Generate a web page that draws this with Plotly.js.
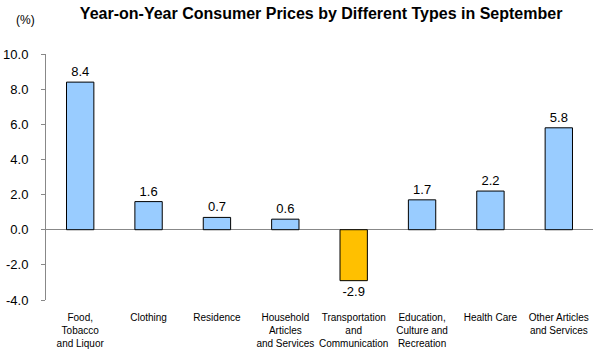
<!DOCTYPE html>
<html>
<head>
<meta charset="utf-8">
<script src="https://cdn.plot.ly/plotly-3.0.1.min.js"></script>
<style>html,body{margin:0;padding:0;background:#fff;}#chart{width:598px;height:352px;}</style>
</head>
<body>
<div id="chart"></div>
<script>
const categories = ["Food,<br>Tobacco<br>and Liquor", "Clothing", "Residence", "Household<br>Articles<br>and Services", "Transportation<br>and<br>Communication", "Education,<br>Culture and<br>Recreation", "Health Care", "Other Articles<br>and Services"];
const values = [8.4, 1.6, 0.7, 0.6, -2.9, 1.7, 2.2, 5.8];
const valueLabels = ["8.4", "1.6", "0.7", "0.6", "-2.9", "1.7", "2.2", "5.8"];
const yTicks = [10, 8, 6, 4, 2, 0, -2, -4];
const yTickLabels = ["10.0", "8.0", "6.0", "4.0", "2.0", "0.0", "-2.0", "-4.0"];

const colors = values.map(v => v < 0 ? "#FFC000" : "#99CCFF");

const trace = {
  type: "bar",
  x: categories,
  y: values,
  text: valueLabels,
  textposition: "outside",
  cliponaxis: false,
  textfont: {family: "Liberation Sans, Arial, sans-serif", size: 13, color: "#000"},
  marker: {color: colors, line: {color: "#000", width: 1}},
  hoverinfo: "none"
};

const layout = {
  width: 598, height: 352,
  margin: {l: 46, r: 5, t: 54, b: 52},
  paper_bgcolor: "#fff", plot_bgcolor: "#fff",
  showlegend: false,
  bargap: 0.6,
  font: {family: "Liberation Sans, Arial, sans-serif", color: "#000"},
  title: {
    text: "<b>Year-on-Year Consumer Prices by Different Types in September</b>",
    font: {size: 16, family: "Liberation Sans, Arial, sans-serif", color: "#000"},
    x: 0.537, xanchor: "center", y: 0.962, yanchor: "middle"
  },
  xaxis: {
    type: "category",
    showline: false, showgrid: false, zeroline: false,
    ticks: "", tickangle: 0,
    tickfont: {size: 10},
    ticklabelstandoff: 10,
    fixedrange: true
  },
  yaxis: {
    range: [-4, 10],
    tickvals: yTicks, ticktext: yTickLabels,
    showline: true, linecolor: "#888", linewidth: 1,
    ticks: "outside", ticklen: 4, tickcolor: "#888",
    showgrid: false,
    zeroline: true, zerolinecolor: "#888", zerolinewidth: 1,
    tickfont: {size: 13},
    ticklabelstandoff: 10,
    fixedrange: true
  },
  annotations: [{
    text: "(%)", xref: "paper", yref: "paper", x: -0.038, y: 1.14,
    xanchor: "center", yanchor: "middle", showarrow: false,
    font: {size: 12, color: "#000"}
  }]
};

Plotly.newPlot("chart", [trace], layout, {displayModeBar: false, staticPlot: true});
</script>
</body>
</html>
